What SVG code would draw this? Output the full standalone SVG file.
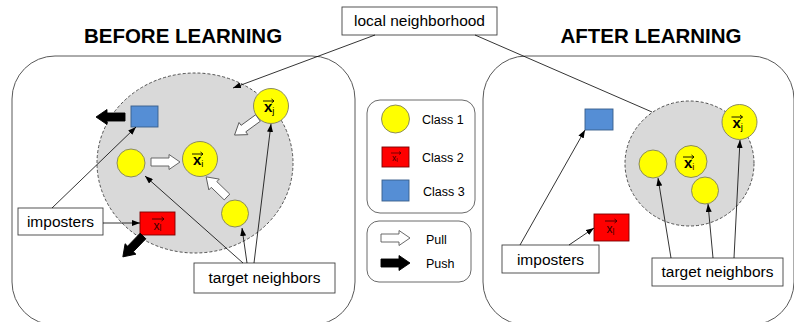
<svg xmlns="http://www.w3.org/2000/svg" width="794" height="322" viewBox="0 0 794 322">
<style>
.panel{fill:#fff;stroke:#595959;stroke-width:1}
.hood{fill:#d9d9d9;stroke:#404040;stroke-width:0.9;stroke-dasharray:3,2}
.c1{fill:#ffff00;stroke:#7f7f60;stroke-width:0.9}
.c2{fill:#ff0000;stroke:#7a0000;stroke-width:0.9}
.c3{fill:#558ed5;stroke:#385d8a;stroke-width:0.9}
.box{fill:#fff;stroke:#404040;stroke-width:0.9}
.leg{fill:#fff;stroke:#595959;stroke-width:0.9}
.t{font-family:"Liberation Sans",Arial,sans-serif;fill:#000}
.title{font-size:20.5px;font-weight:bold;text-anchor:middle}
.lbl{font-size:15.5px;text-anchor:middle}
.legt{font-size:12.5px}
.xv{font-weight:bold;font-size:15px}
.xs{font-size:9.5px;font-weight:normal}
.vec{fill:none;stroke:#000;stroke-width:0.9}
.conn{fill:none;stroke:#000;stroke-width:0.8}
.pull{fill:#fff;stroke:#595959;stroke-width:0.9}
.push{fill:#000;stroke:#000;stroke-width:0.9}
</style>
<defs>
<marker id="ah" markerUnits="userSpaceOnUse" markerWidth="8" markerHeight="6" refX="8" refY="3" orient="auto">
<path d="M0,0 L8,3 L0,6 Z" fill="#000"/>
</marker>
<path id="blk" d="M0,-4 H18 V-7.5 L29,0 L18,7.5 V4 H0 Z"/>
</defs>

<text class="t title" x="183" y="43">BEFORE LEARNING</text>
<text class="t title" x="651" y="43">AFTER LEARNING</text>

<g id="panel-before">
<rect class="panel" x="12" y="56" width="343" height="269" rx="43"/>
</g>
<g id="panel-after">
<rect class="panel" x="483" y="56" width="311" height="269" rx="43"/>
</g>

<g id="local-neighborhood">
<rect class="box" x="342" y="7" width="155" height="28"/>
<text class="t lbl" x="419.5" y="26">local neighborhood</text>
</g>

<g id="hood-before"><ellipse class="hood" cx="195" cy="163" rx="98" ry="90"/></g>
<g id="hood-after"><ellipse class="hood" cx="689.5" cy="163.5" rx="64.5" ry="62.5"/></g>

<!-- before nodes -->
<g id="b-blue"><rect class="c3" x="131" y="106" width="27" height="21"/></g>
<g id="b-xj">
<circle class="c1" cx="271" cy="106" r="17.5"/>
<path class="vec" d="M263,101 H274 M271.5,99 L274,101 L271.5,103"/>
<text class="t xv" x="264" y="112">x<tspan class="xs" dy="2">j</tspan></text>
</g>
<g id="b-c1a"><circle class="c1" cx="131" cy="163" r="14"/></g>
<g id="b-xi">
<circle class="c1" cx="200" cy="159" r="17.5"/>
<path class="vec" d="M192,154 H203 M200.5,152 L203,154 L200.5,156"/>
<text class="t xv" x="193" y="165">x<tspan class="xs" dy="2">i</tspan></text>
</g>
<g id="b-c1b"><circle class="c1" cx="235" cy="213.5" r="13.5"/></g>
<g id="b-red">
<rect class="c2" x="140" y="212" width="35" height="23"/>
<path class="vec" d="M152,219 H164 M161.5,217 L164,219 L161.5,221" style="stroke:#3a0000"/>
<text class="t" x="153.5" y="229.5" style="font-size:12px;fill:#3a0000">x<tspan style="font-size:8.5px" dy="1.5">l</tspan></text>
</g>
<g id="b-imposters">
<rect class="box" x="18" y="208" width="85" height="27"/>
<text class="t lbl" x="60.5" y="227">imposters</text>
</g>
<g id="b-targets">
<rect class="box" x="194" y="263" width="141" height="30"/>
<text class="t lbl" x="264.5" y="283">target neighbors</text>
</g>

<!-- pull/push arrows -->
<g id="forces">
<use href="#blk" class="pull" transform="translate(151,162)"/>
<use href="#blk" class="pull" transform="translate(258,118) rotate(144)"/>
<use href="#blk" class="pull" transform="translate(227,197) rotate(-136)"/>
<use href="#blk" class="push" transform="translate(125,117) rotate(180)"/>
<use href="#blk" class="push" transform="translate(143,236) rotate(134)"/>
</g>

<!-- legend -->
<g id="legend-classes">
<rect class="leg" x="367" y="100" width="108" height="113" rx="13"/>
<circle class="c1" cx="395.5" cy="119" r="14"/>
<text class="t legt" x="422" y="123.5">Class 1</text>
<rect class="c2" x="382" y="147" width="27" height="20"/>
<path class="vec" d="M391,153 H401 M399,151.5 L401,153 L399,154.5" style="stroke:#3a0000;stroke-width:0.7"/>
<text class="t" x="392" y="161" style="font-size:8.5px;fill:#3a0000">x<tspan style="font-size:6px" dy="1">l</tspan></text>
<text class="t legt" x="422" y="161.5">Class 2</text>
<rect class="c3" x="382" y="180" width="27" height="21"/>
<text class="t legt" x="423" y="195.5">Class 3</text>
</g>
<g id="legend-forces">
<rect class="leg" x="367" y="221" width="104" height="61" rx="12"/>
<use href="#blk" class="pull" transform="translate(381,238)"/>
<text class="t legt" x="426" y="244">Pull</text>
<use href="#blk" class="push" transform="translate(381,263)"/>
<text class="t legt" x="426" y="267.5">Push</text>
</g>

<!-- after nodes -->
<g id="a-blue"><rect class="c3" x="585" y="109" width="28" height="21"/></g>
<g id="a-red">
<rect class="c2" x="594" y="214" width="35" height="27"/>
<path class="vec" d="M605,221 H617 M614.5,219 L617,221 L614.5,223" style="stroke:#3a0000"/>
<text class="t" x="606.5" y="233" style="font-size:12px;fill:#3a0000">x<tspan style="font-size:8.5px" dy="1.5">l</tspan></text>
</g>
<g id="a-xj">
<circle class="c1" cx="739.5" cy="122" r="17.5"/>
<path class="vec" d="M731.5,117 H742.5 M740,115 L742.5,117 L740,119"/>
<text class="t xv" x="732.5" y="128">x<tspan class="xs" dy="2">j</tspan></text>
</g>
<g id="a-c1a"><circle class="c1" cx="653" cy="164" r="14"/></g>
<g id="a-xi">
<circle class="c1" cx="691" cy="161.5" r="16"/>
<path class="vec" d="M683,157 H694 M691.5,155 L694,157 L691.5,159"/>
<text class="t xv" x="684" y="168">x<tspan class="xs" dy="2" style="fill:#5a0000">i</tspan></text>
</g>
<g id="a-c1b"><circle class="c1" cx="705" cy="190.5" r="13.5"/></g>
<g id="a-imposters">
<rect class="box" x="502" y="245" width="97" height="28"/>
<text class="t lbl" x="550.5" y="264.5">imposters</text>
</g>
<g id="a-targets">
<rect class="box" x="652" y="258" width="131" height="28"/>
<text class="t lbl" x="717.5" y="277">target neighbors</text>
</g>

<g id="connectors">
<path class="conn" d="M375,35 L233,88" marker-end="url(#ah)"/>
<path class="conn" d="M475,35 L652,112"/>
<path class="conn" d="M52,208 L136,127" marker-end="url(#ah)"/>
<path class="conn" d="M103,223 L140,223" marker-end="url(#ah)"/>
<path class="conn" d="M243,263 L145,176" marker-end="url(#ah)"/>
<path class="conn" d="M247,263 L242,228" marker-end="url(#ah)"/>
<path class="conn" d="M254,263 L271,124" marker-end="url(#ah)"/>
<path class="conn" d="M520,245 L585,130" marker-end="url(#ah)"/>
<path class="conn" d="M569,245 L594,228" marker-end="url(#ah)"/>
<path class="conn" d="M671,258 L658,178" marker-end="url(#ah)"/>
<path class="conn" d="M713,258 L708,204" marker-end="url(#ah)"/>
<path class="conn" d="M734,258 L740,140" marker-end="url(#ah)"/>
</g>
</svg>
